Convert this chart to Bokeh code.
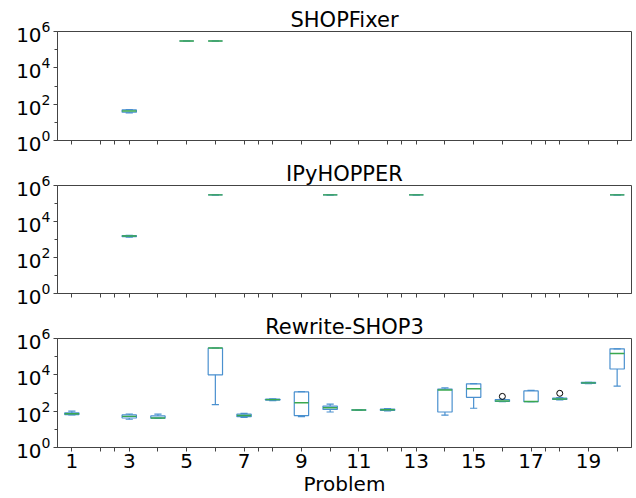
from bokeh.plotting import figure
from bokeh.layouts import column
from bokeh.models import FixedTicker, Range1d
from bokeh.embed import file_html
from bokeh.resources import INLINE

problems = list(range(1, 21))
labelled_problems = [i for i in problems if i % 2 == 1]
unlabelled_problems = [i for i in problems if i % 2 == 0]
extra_x_ticks = [2.5, 7.5, 12.5, 17.5]
y_ticks = [1, 100, 10000, 1000000]
y_minor = [10, 1000, 100000]

# SHOPFixer
sf_x = [3, 5, 6]
sf_lo = [33, 3e5, 3e5]
sf_q1 = [36, 3e5, 3e5]
sf_med = [42, 3e5, 3e5]
sf_q3 = [48, 3e5, 3e5]
sf_hi = [51, 3e5, 3e5]

# IPyHOPPER
ip_x = [3, 6, 10, 13, 20]
ip_lo = [1350, 3e5, 3e5, 3e5, 3e5]
ip_q1 = [1430, 3e5, 3e5, 3e5, 3e5]
ip_med = [1550, 3e5, 3e5, 3e5, 3e5]
ip_q3 = [1650, 3e5, 3e5, 3e5, 3e5]
ip_hi = [1720, 3e5, 3e5, 3e5, 3e5]

# Rewrite-SHOP3
rs_x = [1, 3, 4, 6, 7, 8, 9, 10, 11, 12, 14, 15, 16, 17, 18, 19, 20]
rs_lo = [62, 36, 40, 230, 45, 380, 50, 90, 110, 105, 60, 145, 330, 330, 420, 3300, 2400]
rs_q1 = [65, 42, 41, 1e4, 50, 400, 57, 125, 112, 110, 90, 580, 340, 335, 440, 3400, 21000]
rs_med = [72, 52, 42, 3e5, 58, 430, 290, 155, 115, 120, 1450, 1700, 360, 340, 470, 3600, 150000]
rs_q3 = [80, 62, 55, 3e5, 68, 460, 1150, 190, 118, 130, 1650, 3200, 430, 1300, 520, 3800, 270000]
rs_hi = [100, 70, 68, 3e5, 75, 480, 1200, 245, 120, 140, 1900, 3300, 450, 1400, 550, 3900, 270000]
rs_flier_x = [16, 18]
rs_flier_y = [650, 960]

BOX = "#4a90cf"
MED = "#3aa84f"
AX = "#444444"
FONT = "DejaVu Sans"


def panel(title, xs, lo, q1, med, q3, hi, fx=None, fy=None, bottom=False,
          fh=109, top=27):
    p = figure(
        frame_width=574, frame_height=fh,
        x_range=Range1d(0.5, 20.5), y_range=Range1d(1, 1e6),
        y_axis_type="log", output_backend="svg", toolbar_location=None,
        min_border_left=57, min_border_right=2, min_border_top=top,
        min_border_bottom=(50 if bottom else 18),
    )
    p.title.text = title
    p.title.align = "center"
    p.title.text_font = FONT
    p.title.text_font_size = "21px"
    p.title.text_font_style = "normal"
    p.title.text_color = "black"
    p.title.standoff = 0
    p.grid.visible = False
    p.outline_line_color = AX
    p.outline_line_width = 1
    p.background_fill_color = "white"
    p.border_fill_color = "white"

    xa = p.xaxis[0]
    if bottom:
        xa.ticker = FixedTicker(ticks=labelled_problems,
                                minor_ticks=unlabelled_problems + extra_x_ticks)
    else:
        xa.ticker = FixedTicker(ticks=[], minor_ticks=problems + extra_x_ticks)
    xa.major_tick_out = 4
    xa.major_tick_in = 0
    xa.minor_tick_out = 4
    xa.minor_tick_in = 0
    xa.axis_line_color = AX
    xa.major_tick_line_color = AX
    xa.minor_tick_line_color = AX
    xa.major_label_text_font = FONT
    xa.major_label_text_font_size = "20px"
    xa.major_label_text_color = "black"
    xa.major_label_standoff = 2
    if bottom:
        xa.axis_label = "Problem"
        xa.axis_label_text_font = FONT
        xa.axis_label_text_font_size = "20px"
        xa.axis_label_text_font_style = "normal"
        xa.axis_label_text_color = "black"
        xa.axis_label_standoff = 1

    ya = p.yaxis[0]
    ya.ticker = FixedTicker(ticks=y_ticks, minor_ticks=y_minor)
    ya.major_tick_out = 4
    ya.major_tick_in = 0
    ya.minor_tick_out = 3
    ya.minor_tick_in = 0
    ya.axis_line_color = AX
    ya.major_tick_line_color = AX
    ya.minor_tick_line_color = AX
    ya.major_label_text_font = FONT
    ya.major_label_text_font_size = "20px"
    ya.major_label_text_color = "black"
    ya.major_label_standoff = 3

    left = [x - 0.25 for x in xs]
    right = [x + 0.25 for x in xs]
    cl = [x - 0.125 for x in xs]
    cr = [x + 0.125 for x in xs]
    p.segment(x0=xs, y0=q3, x1=xs, y1=hi, line_color=BOX, line_width=1.2)
    p.segment(x0=xs, y0=q1, x1=xs, y1=lo, line_color=BOX, line_width=1.2)
    p.segment(x0=cl, y0=hi, x1=cr, y1=hi, line_color=BOX, line_width=1.2)
    p.segment(x0=cl, y0=lo, x1=cr, y1=lo, line_color=BOX, line_width=1.2)
    p.quad(left=left, right=right, bottom=q1, top=q3, fill_color=None,
           line_color=BOX, line_width=1.2)
    p.segment(x0=left, y0=med, x1=right, y1=med, line_color=MED, line_width=1.4)
    if fx:
        p.scatter(fx, fy, marker="circle", size=6, fill_color=None,
                  line_color="black", line_width=1)
    return p


p1 = panel("SHOPFixer", sf_x, sf_lo, sf_q1, sf_med, sf_q3, sf_hi, top=31)
p2 = panel("IPyHOPPER", ip_x, ip_lo, ip_q1, ip_med, ip_q3, ip_hi, fh=108)
p3 = panel("Rewrite-SHOP3", rs_x, rs_lo, rs_q1, rs_med, rs_q3, rs_hi,
           rs_flier_x, rs_flier_y, bottom=True)

layout = column(p1, p2, p3, spacing=0)
open("out.html", "w").write(file_html(layout, INLINE))
